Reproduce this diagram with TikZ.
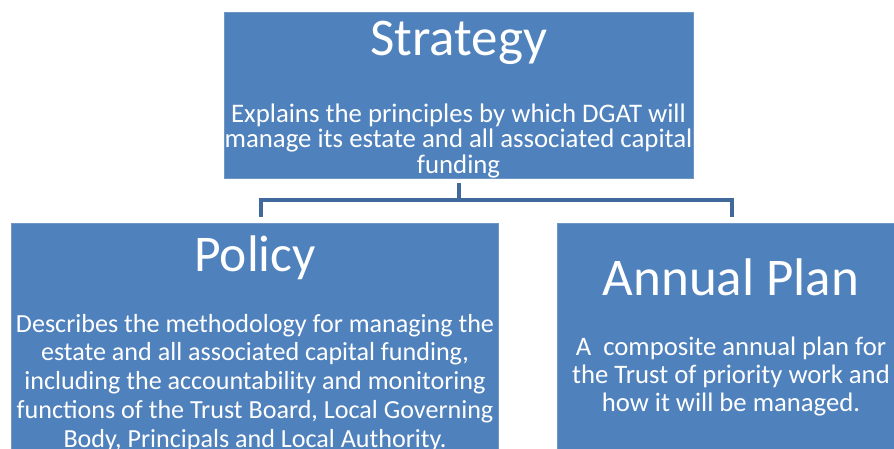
\documentclass[tikz,border=0pt]{standalone}
\usepackage{fontspec}
\setmainfont{Carlito}
\usetikzlibrary{positioning}
\definecolor{myboxcolor}{HTML}{4F81BD}
\definecolor{myedgecolor}{HTML}{7096C6}
\definecolor{mylinkcolor}{HTML}{41699C}

\tikzset{
  planbox/.style={draw=myedgecolor, line width=0.8pt, fill=myboxcolor, rectangle, inner sep=0pt},
  headtext/.style={text=white, inner sep=0pt, anchor=base, font=\fontsize{53pt}{53pt}\selectfont},
  bodytext/.style={text=white, inner sep=0pt, anchor=base, align=center},
  link/.style={draw=mylinkcolor, line width=4pt}
}

\begin{document}
\begin{tikzpicture}[x=1pt, y=1pt]%
\useasboundingbox (0,0) rectangle (894,-448);%
% boxes
\node[planbox, minimum width=469pt, minimum height=166pt] (strategy) at (458.5,-95) {};%
\node[planbox, minimum width=487pt, minimum height=250pt] (policy) at (254.5,-348) {};%
\node[planbox, minimum width=346pt, minimum height=250pt] (annual) at (730,-348) {};%
% titles
\node[headtext] (strategyhead) at (458.5,-55) {Strategy};%
\node[headtext, font=\fontsize{51.5pt}{51.5pt}\selectfont] (policyhead) at (255,-271) {Policy};%
\node[headtext] (annualhead) at (731,-295) {Annual Plan};%
% texts
\node[bodytext, font=\fontsize{26.8pt}{25.5pt}\selectfont] (strategytext) at (458.5,-173) {Explains the principles by which DGAT will\\manage its estate and all associated capital\\funding};%
\node[bodytext, font=\fontsize{26.1pt}{28.7pt}\selectfont] (policytext) at (255,-447) {Describes the methodology for managing the\\estate and all associated capital funding,\\including the accountability and monitoring\\functions of the Trust Board, Local Governing\\Body, Principals and Local Authority.};%
\node[bodytext, font=\fontsize{26.7pt}{28pt}\selectfont] (annualtext) at (731,-411) {A\ \ composite annual plan for\\the Trust of priority work and\\how it will be managed.};%
% connectors
\draw[link] ([yshift=-5pt]strategy.south) -- (strategy.south |- 0,-200) -| ([xshift=6.5pt, yshift=6pt]policy.north);%
\draw[link] (strategy.south |- 0,-200) -| ([xshift=2pt, yshift=6pt]annual.north);%
\end{tikzpicture}
\end{document}
